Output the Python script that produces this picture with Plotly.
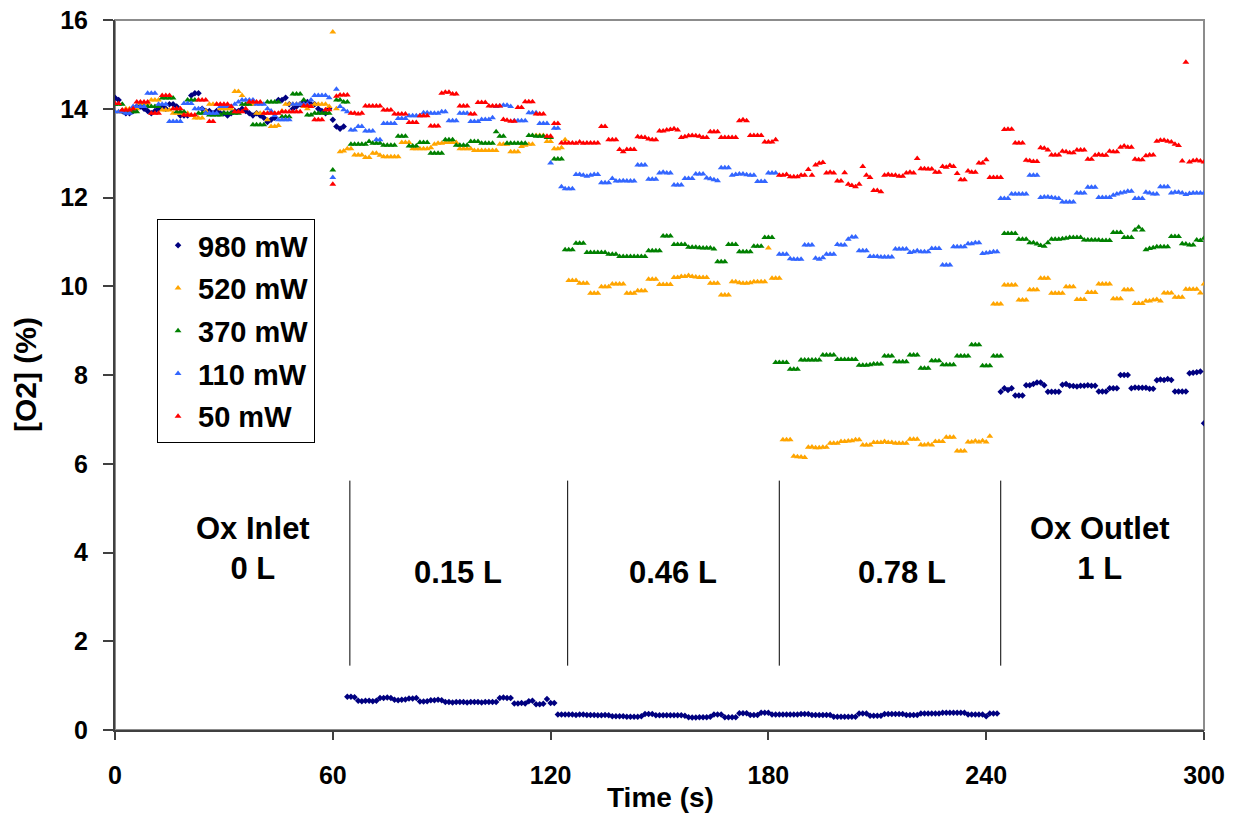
import plotly.graph_objects as go

# ---------------- data ----------------
time_s = list(range(0, 301))

o2_980mW = [
    14.25, 14.20, 13.95, 13.90, 13.90, 13.95, 14.05, 14.05, 14.00, 13.95,
    13.90, 13.95, 14.00, 14.05, 14.00, 14.10, 14.10, 14.05, 13.85, 13.85,
    13.85, 14.30, 14.35, 14.35, 14.00, 13.95, 13.95, 13.90, 13.95, 13.90,
    13.90, 13.85, 13.90, 13.95, 13.95, 14.00, 13.95, 13.90, 13.85, 13.90,
    13.85, 13.80, 13.70, 13.75, 13.80, 14.20, 14.20, 14.25, 14.10, 14.00,
    14.05, 14.10, 14.15, 14.15, 14.10, 14.10, 14.00, 13.95, 13.90, 14.00,
    13.75, 13.60, 13.55, 13.60, 0.75, 0.75, 0.74, 0.66, 0.65, 0.66,
    0.66, 0.65, 0.66, 0.72, 0.72, 0.73, 0.72, 0.68, 0.67, 0.68,
    0.69, 0.71, 0.71, 0.72, 0.64, 0.64, 0.65, 0.67, 0.67, 0.68,
    0.67, 0.63, 0.63, 0.62, 0.63, 0.63, 0.63, 0.62, 0.63, 0.63,
    0.63, 0.62, 0.63, 0.63, 0.63, 0.63, 0.72, 0.73, 0.72, 0.72,
    0.60, 0.60, 0.61, 0.60, 0.65, 0.66, 0.58, 0.58, 0.59, 0.70,
    0.61, 0.61, 0.35, 0.35, 0.35, 0.35, 0.35, 0.34, 0.35, 0.35,
    0.34, 0.34, 0.34, 0.33, 0.33, 0.34, 0.33, 0.31, 0.31, 0.31,
    0.31, 0.30, 0.30, 0.30, 0.30, 0.31, 0.36, 0.36, 0.36, 0.33,
    0.33, 0.33, 0.33, 0.33, 0.33, 0.33, 0.33, 0.32, 0.29, 0.28,
    0.28, 0.29, 0.29, 0.29, 0.30, 0.35, 0.35, 0.35, 0.29, 0.29,
    0.29, 0.29, 0.38, 0.38, 0.38, 0.34, 0.34, 0.34, 0.39, 0.39,
    0.39, 0.35, 0.35, 0.35, 0.35, 0.35, 0.35, 0.35, 0.35, 0.36,
    0.36, 0.36, 0.34, 0.34, 0.34, 0.34, 0.34, 0.34, 0.30, 0.30,
    0.30, 0.30, 0.30, 0.30, 0.30, 0.37, 0.37, 0.37, 0.32, 0.32,
    0.32, 0.32, 0.36, 0.36, 0.36, 0.36, 0.36, 0.36, 0.34, 0.34,
    0.34, 0.34, 0.37, 0.37, 0.37, 0.37, 0.37, 0.37, 0.39, 0.39,
    0.39, 0.39, 0.39, 0.39, 0.39, 0.35, 0.35, 0.35, 0.35, 0.35,
    0.31, 0.37, 0.37, 0.37, 7.62, 7.70, 7.66, 7.70, 7.54, 7.54,
    7.54, 7.77, 7.77, 7.80, 7.83, 7.83, 7.77, 7.62, 7.62, 7.62,
    7.62, 7.78, 7.80, 7.76, 7.75, 7.74, 7.76, 7.76, 7.77, 7.76,
    7.76, 7.63, 7.63, 7.63, 7.70, 7.70, 7.70, 8.00, 8.00, 8.00,
    7.70, 7.72, 7.71, 7.71, 7.71, 7.69, 7.69, 7.88, 7.90, 7.89,
    7.91, 7.89, 7.63, 7.63, 7.63, 7.63, 8.04, 8.05, 8.06, 8.08,
    6.91,
]

o2_520mW = [
    13.93, 13.93, 13.93, 14.00, 14.00, 14.00, 14.00, 14.12, 14.12, 14.12,
    14.20, 14.20, 14.20, 13.97, 13.97, 13.97, 13.90, 13.90, 13.90, 13.90,
    13.90, 13.85, 13.79, 13.79, 13.79, 13.95, 14.10, 14.10, 14.10, 14.00,
    14.00, 14.00, 14.00, 14.39, 14.39, 14.30, 14.10, 14.10, 14.10, 13.90,
    13.90, 13.90, 13.75, 13.60, 13.60, 13.62, 13.95, 14.10, 14.10, 14.10,
    14.10, 14.10, 14.05, 14.00, 14.05, 14.10, 14.10, 14.10, 14.10, 14.05,
    15.73, 14.00, 13.03, 13.05, 13.10, 13.10, 12.96, 12.96, 12.96, 12.90,
    12.90, 13.00, 13.00, 12.95, 12.92, 12.92, 12.92, 12.92, 12.92, 13.24,
    13.24, 13.24, 13.10, 13.10, 13.10, 13.10, 13.10, 13.12, 13.20, 13.22,
    13.22, 13.24, 13.24, 13.24, 13.24, 13.10, 13.10, 13.10, 13.10, 13.06,
    13.06, 13.06, 13.06, 13.06, 13.06, 13.06, 13.20, 13.20, 13.20, 13.03,
    13.03, 13.03, 13.15, 13.18, 13.20, 13.20, 13.40, 13.40, 13.40, 13.26,
    13.26, 13.10, 13.10, 13.12, 13.30, 10.13, 10.13, 10.13, 10.07, 10.07,
    10.07, 9.84, 9.84, 9.84, 9.99, 9.99, 9.99, 10.05, 10.05, 10.05,
    10.05, 9.84, 9.84, 9.84, 9.90, 9.90, 9.90, 10.16, 10.16, 10.16,
    10.04, 10.04, 10.04, 10.04, 10.20, 10.20, 10.22, 10.22, 10.24, 10.22,
    10.21, 10.20, 10.20, 10.20, 10.07, 10.07, 10.07, 9.80, 9.80, 9.80,
    10.10, 10.10, 10.08, 10.07, 10.07, 10.08, 10.10, 10.10, 10.10, 10.10,
    10.86, 10.18, 10.18, 10.18, 6.54, 6.54, 6.54, 6.17, 6.16, 6.15,
    6.14, 6.37, 6.38, 6.36, 6.36, 6.37, 6.37, 6.46, 6.46, 6.46,
    6.50, 6.50, 6.51, 6.52, 6.54, 6.54, 6.42, 6.42, 6.42, 6.48,
    6.48, 6.48, 6.50, 6.48, 6.48, 6.46, 6.46, 6.46, 6.46, 6.55,
    6.55, 6.55, 6.43, 6.42, 6.44, 6.42, 6.50, 6.50, 6.50, 6.60,
    6.60, 6.60, 6.29, 6.29, 6.29, 6.49, 6.49, 6.51, 6.49, 6.52,
    6.49, 6.62, 9.60, 9.60, 9.60, 10.03, 10.03, 10.03, 10.03, 9.69,
    9.69, 9.69, 9.92, 9.92, 9.92, 10.18, 10.18, 10.18, 9.84, 9.84,
    9.84, 9.84, 9.99, 9.99, 9.99, 9.70, 9.70, 9.70, 9.86, 9.86,
    9.86, 10.05, 10.05, 10.05, 10.05, 9.72, 9.72, 9.72, 9.92, 9.92,
    9.92, 9.61, 9.61, 9.61, 9.67, 9.67, 9.69, 9.70, 9.67, 9.85,
    9.85, 9.85, 9.75, 9.75, 9.75, 9.93, 9.93, 9.93, 9.93, 9.85,
    10.05,
]

o2_370mW = [
    14.10, 14.10, 14.10, 13.93, 13.93, 13.93, 13.93, 14.05, 14.05, 14.05,
    14.05, 14.05, 14.05, 14.24, 14.24, 14.24, 14.24, 13.93, 13.93, 13.93,
    14.20, 14.20, 14.20, 13.90, 13.90, 13.90, 13.86, 13.86, 13.86, 13.86,
    13.90, 13.90, 13.90, 13.90, 13.90, 14.10, 14.10, 14.10, 13.64, 13.64,
    13.64, 13.64, 14.15, 14.15, 14.15, 14.15, 13.82, 13.82, 13.82, 14.33,
    14.33, 14.33, 14.20, 13.86, 13.86, 13.90, 13.90, 13.90, 13.90, 13.90,
    12.62, 14.20, 14.20, 14.15, 14.15, 13.20, 13.20, 13.20, 13.20, 13.20,
    13.26, 13.22, 13.22, 13.22, 13.18, 13.18, 13.18, 13.18, 13.38, 13.38,
    13.38, 13.16, 13.16, 13.16, 13.24, 13.24, 13.24, 13.00, 13.00, 13.00,
    13.00, 13.30, 13.30, 13.30, 13.18, 13.18, 13.18, 13.18, 13.26, 13.26,
    13.26, 13.22, 13.22, 13.22, 13.22, 13.48, 13.38, 13.38, 13.22, 13.22,
    13.22, 13.22, 13.22, 13.22, 13.40, 13.40, 13.38, 13.38, 13.38, 13.35,
    13.35, 12.87, 12.87, 12.87, 10.82, 10.82, 10.82, 10.97, 10.97, 10.97,
    10.76, 10.76, 10.76, 10.76, 10.76, 10.76, 10.72, 10.72, 10.72, 10.67,
    10.67, 10.67, 10.67, 10.67, 10.67, 10.67, 10.67, 10.80, 10.80, 10.80,
    10.80, 11.13, 11.13, 11.13, 10.94, 10.94, 10.94, 10.94, 10.88, 10.88,
    10.88, 10.87, 10.86, 10.86, 10.86, 10.84, 10.55, 10.55, 10.55, 10.94,
    10.94, 10.94, 10.78, 10.78, 10.78, 10.78, 10.90, 10.90, 10.90, 11.10,
    11.10, 11.10, 8.28, 8.28, 8.28, 8.28, 8.13, 8.13, 8.13, 8.34,
    8.34, 8.34, 8.34, 8.34, 8.34, 8.45, 8.45, 8.45, 8.45, 8.35,
    8.35, 8.35, 8.35, 8.35, 8.35, 8.22, 8.22, 8.22, 8.23, 8.25,
    8.25, 8.25, 8.43, 8.43, 8.43, 8.30, 8.30, 8.30, 8.30, 8.45,
    8.45, 8.45, 8.15, 8.15, 8.15, 8.32, 8.32, 8.32, 8.23, 8.23,
    8.23, 8.23, 8.43, 8.43, 8.43, 8.43, 8.68, 8.68, 8.68, 8.21,
    8.21, 8.21, 8.43, 8.43, 8.43, 11.19, 11.19, 11.19, 11.19, 11.06,
    11.06, 11.06, 10.98, 10.98, 10.95, 10.92, 10.90, 10.98, 11.06, 11.06,
    11.06, 11.07, 11.08, 11.10, 11.10, 11.10, 11.10, 11.04, 11.04, 11.04,
    11.04, 11.04, 11.03, 11.03, 11.03, 11.21, 11.21, 11.21, 11.10, 11.10,
    11.10, 11.27, 11.33, 11.27, 10.82, 10.85, 10.87, 10.89, 10.89, 10.89,
    10.89, 11.12, 11.12, 11.12, 10.96, 10.95, 10.93, 10.93, 11.04, 11.03,
    11.08,
]

o2_110mW = [
    13.93, 13.93, 13.93, 13.90, 13.90, 14.05, 14.05, 14.05, 14.05, 14.35,
    14.35, 14.35, 14.10, 14.10, 14.10, 13.71, 13.71, 13.71, 13.71, 14.12,
    14.12, 14.12, 14.00, 14.00, 14.00, 13.90, 13.90, 13.90, 13.90, 14.05,
    14.05, 14.05, 14.05, 14.10, 14.15, 14.20, 14.20, 14.20, 14.20, 14.10,
    14.10, 14.10, 14.00, 13.95, 13.85, 13.75, 13.75, 13.75, 13.75, 14.10,
    14.10, 14.10, 14.10, 14.10, 14.20, 14.30, 14.30, 14.30, 14.30, 14.25,
    12.45, 14.44, 14.05, 13.98, 13.93, 13.52, 13.52, 13.60, 13.60, 13.50,
    13.50, 13.50, 13.30, 13.30, 13.67, 13.67, 13.67, 13.67, 13.78, 13.78,
    13.78, 13.84, 13.84, 13.84, 13.84, 13.91, 13.91, 13.90, 13.90, 13.90,
    13.93, 13.93, 13.73, 13.73, 13.73, 13.90, 13.90, 13.90, 13.71, 13.71,
    13.71, 13.76, 13.76, 13.76, 13.80, 14.05, 14.06, 14.08, 14.08, 14.05,
    13.73, 13.73, 13.73, 13.73, 13.91, 13.91, 13.91, 13.67, 13.67, 13.67,
    12.78, 13.56, 13.56, 12.24, 12.20, 12.20, 12.20, 12.52, 12.52, 12.50,
    12.48, 12.50, 12.52, 12.52, 12.33, 12.33, 12.33, 12.43, 12.37, 12.37,
    12.38, 12.37, 12.37, 12.37, 12.73, 12.73, 12.73, 12.41, 12.41, 12.41,
    12.55, 12.57, 12.55, 12.55, 12.28, 12.28, 12.28, 12.43, 12.43, 12.43,
    12.53, 12.53, 12.53, 12.44, 12.42, 12.40, 12.38, 12.67, 12.67, 12.67,
    12.50, 12.52, 12.53, 12.53, 12.51, 12.50, 12.50, 12.36, 12.36, 12.36,
    12.55, 12.55, 12.55, 10.72, 10.72, 10.72, 10.62, 10.61, 10.61, 10.61,
    10.93, 10.93, 10.93, 10.63, 10.61, 10.64, 10.72, 10.72, 10.72, 10.94,
    10.93, 10.93, 11.06, 11.11, 11.11, 10.80, 10.80, 10.80, 10.67, 10.67,
    10.67, 10.66, 10.66, 10.66, 10.66, 10.84, 10.84, 10.84, 10.84, 10.76,
    10.78, 10.80, 10.78, 10.78, 10.78, 10.85, 10.85, 10.85, 10.48, 10.48,
    10.48, 10.89, 10.89, 10.89, 10.89, 10.96, 10.96, 10.98, 10.98, 10.74,
    10.75, 10.76, 10.78, 10.78, 11.98, 11.98, 11.98, 12.08, 12.08, 12.08,
    12.08, 12.08, 12.50, 12.50, 12.50, 12.00, 12.01, 12.01, 12.00, 11.99,
    11.98, 11.90, 11.90, 11.90, 11.90, 12.10, 12.10, 12.10, 12.23, 12.23,
    12.23, 12.00, 12.00, 12.00, 12.00, 12.05, 12.08, 12.10, 12.12, 12.14,
    12.14, 11.98, 11.98, 11.98, 12.12, 12.10, 12.08, 12.08, 12.24, 12.24,
    12.24, 12.10, 12.12, 12.12, 12.10, 12.07, 12.09, 12.10, 12.10, 12.10,
    12.10,
]

o2_50mW = [
    14.12, 14.12, 13.97, 13.97, 13.97, 14.00, 14.15, 14.15, 14.15, 14.15,
    13.90, 13.90, 13.90, 14.30, 14.30, 14.30, 14.00, 14.00, 14.00, 13.86,
    13.86, 13.86, 13.86, 14.20, 14.20, 14.20, 13.71, 13.71, 14.10, 14.10,
    14.10, 14.10, 14.05, 13.93, 13.93, 13.93, 14.00, 14.15, 14.15, 14.15,
    14.15, 13.90, 13.90, 13.90, 13.90, 13.90, 13.93, 13.93, 13.93, 13.93,
    13.93, 13.93, 14.07, 14.07, 14.05, 13.75, 13.75, 13.75, 13.98, 13.98,
    12.30, 14.28, 14.31, 14.31, 14.31, 13.90, 13.90, 13.88, 13.90, 14.06,
    14.06, 14.06, 14.06, 14.06, 13.97, 13.97, 13.97, 13.88, 13.88, 13.88,
    13.88, 13.69, 13.69, 13.69, 13.84, 13.84, 13.84, 13.61, 13.61, 13.61,
    14.35, 14.37, 14.37, 14.33, 14.33, 14.06, 14.06, 14.06, 13.88, 13.88,
    14.14, 14.14, 14.14, 14.06, 14.06, 14.06, 14.06, 13.76, 13.74, 13.72,
    13.72, 14.03, 14.03, 14.16, 14.16, 14.16, 13.88, 13.88, 13.88, 13.38,
    13.38, 13.67, 13.67, 13.23, 13.23, 13.23, 13.23, 13.22, 13.25, 13.22,
    13.23, 13.23, 13.23, 13.23, 13.60, 13.60, 13.30, 13.30, 13.30, 13.08,
    13.03, 13.08, 13.08, 13.08, 13.37, 13.36, 13.35, 13.32, 13.30, 13.30,
    13.50, 13.50, 13.52, 13.53, 13.55, 13.52, 13.35, 13.37, 13.39, 13.40,
    13.39, 13.38, 13.35, 13.35, 13.48, 13.48, 13.48, 13.35, 13.35, 13.35,
    13.35, 13.35, 13.73, 13.75, 13.73, 13.40, 13.40, 13.40, 13.40, 13.25,
    13.25, 13.25, 13.30, 12.50, 12.50, 12.52, 12.47, 12.47, 12.47, 12.50,
    12.50, 12.63, 12.50, 12.73, 12.77, 12.79, 12.55, 12.57, 12.55, 12.37,
    12.37, 12.56, 12.30, 12.27, 12.24, 12.30, 12.70, 12.50, 12.45, 12.16,
    12.16, 12.13, 12.50, 12.52, 12.50, 12.50, 12.48, 12.48, 12.55, 12.57,
    12.55, 12.88, 12.65, 12.65, 12.64, 12.64, 12.57, 12.57, 12.70, 12.68,
    12.72, 12.70, 12.54, 12.40, 12.40, 12.60, 12.57, 12.57, 12.78, 12.78,
    12.85, 12.45, 12.45, 12.45, 12.45, 13.53, 13.54, 13.54, 13.23, 13.23,
    13.23, 12.84, 12.83, 12.81, 12.81, 13.12, 13.11, 13.07, 12.96, 12.96,
    12.96, 13.04, 13.03, 13.01, 13.01, 13.07, 13.07, 13.07, 12.86, 12.86,
    12.95, 12.97, 12.95, 12.95, 13.04, 13.03, 13.03, 13.13, 13.16, 13.13,
    13.13, 12.86, 12.85, 12.85, 12.94, 12.96, 12.96, 13.27, 13.29, 13.29,
    13.27, 13.25, 13.20, 13.17, 12.82, 15.05, 12.80, 12.83, 12.84, 12.82,
    12.80,
]

series_names = ["980 mW", "520 mW", "370 mW", "110 mW", "50 mW"]
series_values = [o2_980mW, o2_520mW, o2_370mW, o2_110mW, o2_50mW]
series_colors = ["#000080", "#FFA500", "#008000", "#3366FF", "#FF0000"]
series_symbols = ["diamond", "triangle-up", "triangle-up", "triangle-up", "triangle-up"]

# sampling-position boundaries (s) and their labels
boundary_times = [64.7, 124.7, 183.0, 244.0]
boundary_y = [1.45, 5.62]
region_labels = ["Ox Inlet<br>0 L", "0.15 L", "0.46 L", "0.78 L", "Ox Outlet<br>1 L"]
region_label_x = [38, 94.4, 153.6, 216.9, 271.4]
region_label_y = [4.1, 3.55, 3.55, 3.55, 4.1]

x_ticks = [0, 60, 120, 180, 240, 300]
y_ticks = [0, 2, 4, 6, 8, 10, 12, 14, 16]
x_title = "Time (s)"
y_title = "[O2] (%)"

# ---------------- figure ----------------
FONT = "Liberation Sans, Arial, sans-serif"
fig = go.Figure()

for i, (name, vals, col, sym) in enumerate(zip(series_names, series_values, series_colors, series_symbols)):
    fig.add_trace(go.Scatter(
        x=time_s, y=vals, mode="markers", name=f"<b>{name}</b>",
        legendgroup=f"g{i}",
        marker=dict(color=col, symbol=sym, size=6 if sym != "diamond" else 5,
                    line=dict(width=0)),
    ))

shapes = [dict(type="rect", xref="paper", yref="paper", x0=0, x1=1, y0=0, y1=1,
               line=dict(color="#8c8c8c", width=2), layer="below")]
for bt in boundary_times:
    shapes.append(dict(type="line", xref="x", yref="y", x0=bt, x1=bt,
                       y0=boundary_y[0], y1=boundary_y[1],
                       line=dict(color="black", width=1)))

annotations = []
for lab, lx, ly in zip(region_labels, region_label_x, region_label_y):
    annotations.append(dict(x=lx, y=ly, xref="x", yref="y", text=f"<b>{lab}</b>",
                            showarrow=False, font=dict(family=FONT, size=31, color="black"),
                            align="center"))
# axis titles
annotations.append(dict(x=0.5005, y=-0.0944, xref="paper", yref="paper",
                        text=f"<b>{x_title}</b>", showarrow=False,
                        xanchor="center", yanchor="middle",
                        font=dict(family=FONT, size=28, color="black")))
annotations.append(dict(x=-0.0826, y=0.5, xref="paper", yref="paper",
                        text=f"<b>{y_title}</b>", showarrow=False, textangle=-90,
                        xanchor="center", yanchor="middle",
                        font=dict(family=FONT, size=30, color="black")))

fig.update_layout(
    width=1239, height=814,
    margin=dict(l=115, r=35, t=20, b=84, autoexpand=False),
    paper_bgcolor="white", plot_bgcolor="white",
    font=dict(family=FONT, color="black"),
    shapes=shapes,
    annotations=annotations,
    showlegend=True,
    legend=dict(x=0.0386, y=0.7197, xanchor="left", yanchor="top",
                bordercolor="black", borderwidth=1, bgcolor="white",
                font=dict(family=FONT, size=29, color="black"),
                tracegroupgap=2, itemsizing="trace"),
)

fig.update_xaxes(
    range=[0, 300], tickvals=x_ticks, ticktext=[f"<b>{v}</b>" for v in x_ticks],
    ticks="outside", ticklen=8, tickwidth=2, tickcolor="#404040",
    showline=True, linecolor="#404040", linewidth=2, showgrid=False, zeroline=False,
    tickfont=dict(family=FONT, size=25, color="black"), ticklabelstandoff=14,
    ticklabeloverflow="allow", automargin=False,
)
fig.update_yaxes(
    range=[0, 16], tickvals=y_ticks, ticktext=[f"<b>{v}</b>" for v in y_ticks],
    ticks="outside", ticklen=10, tickwidth=2, tickcolor="#404040",
    showline=True, linecolor="#404040", linewidth=2, showgrid=False, zeroline=False,
    tickfont=dict(family=FONT, size=25, color="black"), ticklabelstandoff=10,
    ticklabeloverflow="allow", automargin=False,
)

# remove the page's default body margin so the figure fills the window exactly
fig.write_html("out.html", config={"displayModeBar": False},
               post_script="document.body.style.margin='0';")
